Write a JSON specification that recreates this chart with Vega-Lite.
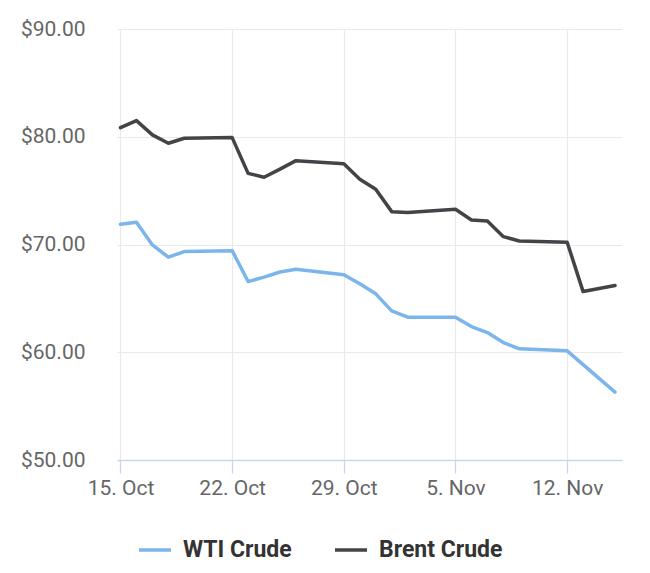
{
  "$schema": "https://vega.github.io/schema/vega-lite/v6.json",
  "width": 505,
  "height": 431,
  "autosize": {"type": "none"},
  "padding": {"left": 117, "top": 29, "right": 28, "bottom": 113},
  "background": "white",
  "config": {
    "view": {"stroke": null},
    "font": "Roboto"
  },
  "data": {
    "values": [
      {"date": "2018-10-15", "series": "WTI Crude", "price": 71.88},
      {"date": "2018-10-16", "series": "WTI Crude", "price": 72.06},
      {"date": "2018-10-17", "series": "WTI Crude", "price": 69.96},
      {"date": "2018-10-18", "series": "WTI Crude", "price": 68.82},
      {"date": "2018-10-19", "series": "WTI Crude", "price": 69.34},
      {"date": "2018-10-22", "series": "WTI Crude", "price": 69.43},
      {"date": "2018-10-23", "series": "WTI Crude", "price": 66.56},
      {"date": "2018-10-24", "series": "WTI Crude", "price": 66.97},
      {"date": "2018-10-25", "series": "WTI Crude", "price": 67.45},
      {"date": "2018-10-26", "series": "WTI Crude", "price": 67.71},
      {"date": "2018-10-29", "series": "WTI Crude", "price": 67.2},
      {"date": "2018-10-30", "series": "WTI Crude", "price": 66.35},
      {"date": "2018-10-31", "series": "WTI Crude", "price": 65.42},
      {"date": "2018-11-01", "series": "WTI Crude", "price": 63.84},
      {"date": "2018-11-02", "series": "WTI Crude", "price": 63.25},
      {"date": "2018-11-05", "series": "WTI Crude", "price": 63.25},
      {"date": "2018-11-06", "series": "WTI Crude", "price": 62.38},
      {"date": "2018-11-07", "series": "WTI Crude", "price": 61.83},
      {"date": "2018-11-08", "series": "WTI Crude", "price": 60.9},
      {"date": "2018-11-09", "series": "WTI Crude", "price": 60.32},
      {"date": "2018-11-12", "series": "WTI Crude", "price": 60.13},
      {"date": "2018-11-15", "series": "WTI Crude", "price": 56.3},
      {"date": "2018-10-15", "series": "Brent Crude", "price": 80.84},
      {"date": "2018-10-16", "series": "Brent Crude", "price": 81.5},
      {"date": "2018-10-17", "series": "Brent Crude", "price": 80.17},
      {"date": "2018-10-18", "series": "Brent Crude", "price": 79.4},
      {"date": "2018-10-19", "series": "Brent Crude", "price": 79.86},
      {"date": "2018-10-22", "series": "Brent Crude", "price": 79.92},
      {"date": "2018-10-23", "series": "Brent Crude", "price": 76.6},
      {"date": "2018-10-24", "series": "Brent Crude", "price": 76.24},
      {"date": "2018-10-25", "series": "Brent Crude", "price": 77.0},
      {"date": "2018-10-26", "series": "Brent Crude", "price": 77.78},
      {"date": "2018-10-29", "series": "Brent Crude", "price": 77.5},
      {"date": "2018-10-30", "series": "Brent Crude", "price": 76.06},
      {"date": "2018-10-31", "series": "Brent Crude", "price": 75.13},
      {"date": "2018-11-01", "series": "Brent Crude", "price": 73.05},
      {"date": "2018-11-02", "series": "Brent Crude", "price": 72.96},
      {"date": "2018-11-05", "series": "Brent Crude", "price": 73.27},
      {"date": "2018-11-06", "series": "Brent Crude", "price": 72.28},
      {"date": "2018-11-07", "series": "Brent Crude", "price": 72.19},
      {"date": "2018-11-08", "series": "Brent Crude", "price": 70.73},
      {"date": "2018-11-09", "series": "Brent Crude", "price": 70.33},
      {"date": "2018-11-12", "series": "Brent Crude", "price": 70.21},
      {"date": "2018-11-13", "series": "Brent Crude", "price": 65.63},
      {"date": "2018-11-15", "series": "Brent Crude", "price": 66.19}
    ]
  },
  "mark": {"type": "line", "strokeWidth": 3.5, "strokeJoin": "round", "strokeCap": "round"},
  "encoding": {
    "x": {
      "field": "date",
      "type": "temporal",
      "scale": {
        "type": "utc",
        "domain": [
          {"year": 2018, "month": 10, "date": 14, "hours": 18, "minutes": 45, "utc": true},
          {"year": 2018, "month": 11, "date": 15, "hours": 10, "minutes": 30, "utc": true}
        ]
      },
      "axis": {
        "title": null,
        "values": [
          {"year": 2018, "month": 10, "date": 15, "utc": true},
          {"year": 2018, "month": 10, "date": 22, "utc": true},
          {"year": 2018, "month": 10, "date": 29, "utc": true},
          {"year": 2018, "month": 11, "date": 5, "utc": true},
          {"year": 2018, "month": 11, "date": 12, "utc": true}
        ],
        "format": "%-d. %b",
        "labelFont": "Roboto",
        "labelFontSize": 21,
        "labelColor": "#666666",
        "labelPadding": 4,
        "labelFlush": false,
        "domainColor": "#ccd6eb",
        "domainWidth": 1.3,
        "tickColor": "#ccd6eb",
        "tickWidth": 1.3,
        "tickSize": 13,
        "grid": true,
        "gridColor": "#e9e9e9",
        "gridWidth": 1.2
      }
    },
    "y": {
      "field": "price",
      "type": "quantitative",
      "scale": {"domain": [50, 90], "nice": false, "zero": false},
      "axis": {
        "title": null,
        "values": [50, 60, 70, 80, 90],
        "format": "$.2f",
        "labelFont": "Roboto",
        "labelFontSize": 21,
        "labelColor": "#666666",
        "labelPadding": 32,
        "domain": false,
        "ticks": false,
        "tickSize": 0,
        "grid": true,
        "gridColor": "#e9e9e9",
        "gridWidth": 1.2
      }
    },
    "color": {
      "field": "series",
      "type": "nominal",
      "scale": {"domain": ["WTI Crude", "Brent Crude"], "range": ["#7cb5ec", "#434348"]},
      "legend": {
        "title": null,
        "orient": "none",
        "direction": "horizontal",
        "legendX": 20,
        "legendY": 503,
        "padding": 0,
        "symbolType": "stroke",
        "symbolSize": 1024,
        "symbolStrokeWidth": 3.5,
        "labelFont": "Roboto",
        "labelFontSize": 23,
        "labelFontWeight": "bold",
        "labelColor": "#333333",
        "labelOffset": 10,
        "columnPadding": 36
      }
    }
  }
}
